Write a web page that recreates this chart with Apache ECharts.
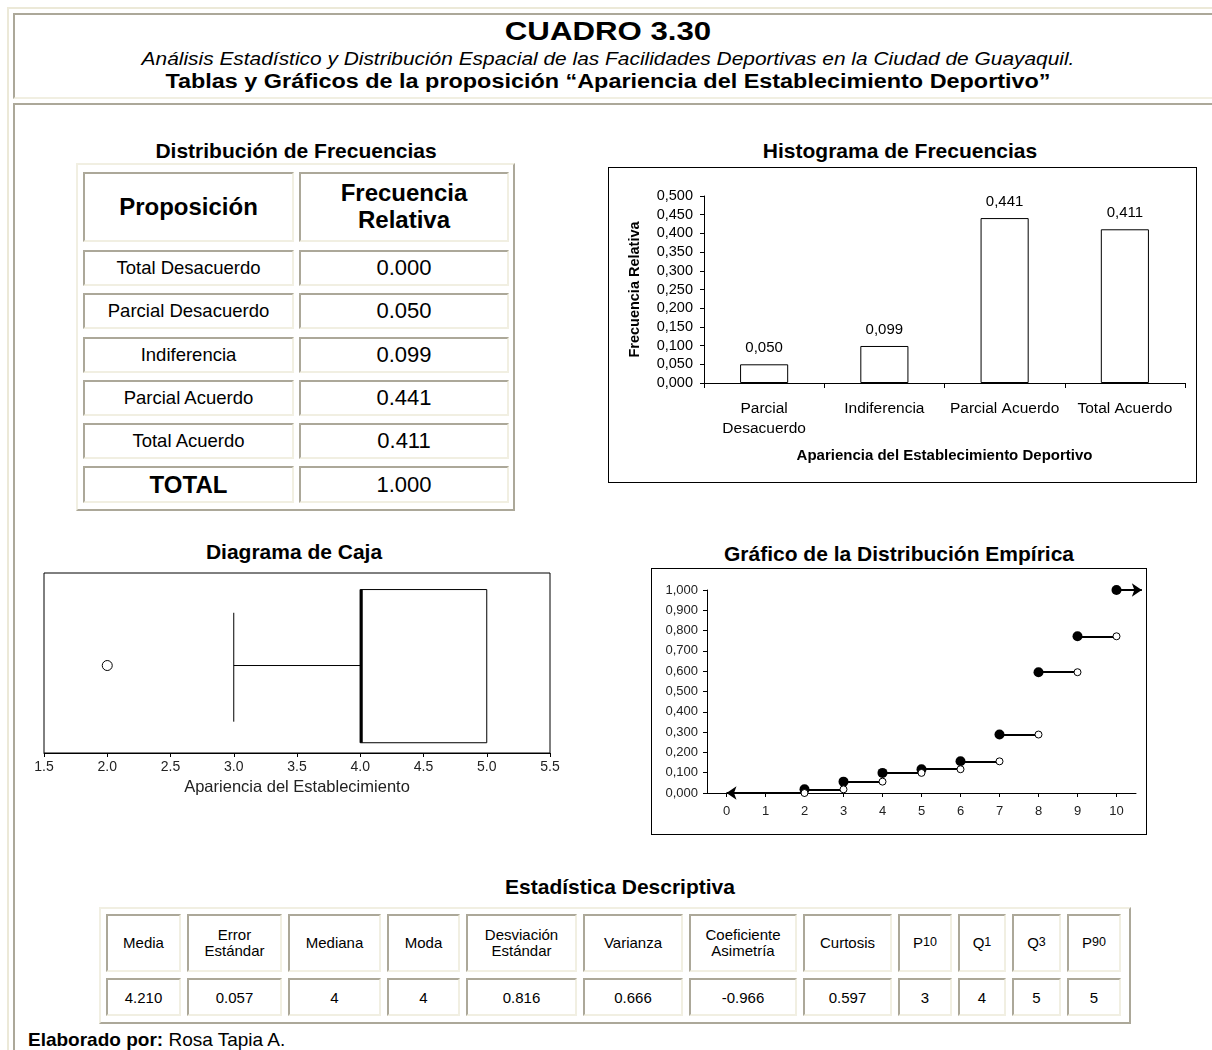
<!DOCTYPE html>
<html><head><meta charset="utf-8">
<script src="https://cdn.jsdelivr.net/npm/echarts@6/dist/echarts.min.js"></script>
<style>
html,body{margin:0;padding:0;width:1212px;height:1050px;overflow:hidden;background:#fff;font-family:'Liberation Sans',Arial,sans-serif;color:#000;}
.abs{position:absolute;box-sizing:border-box;}
.outer{border-top:2px solid #ECE9D8;border-left:2px solid #ECE9D8;}
.inset{border-top:2px solid #ACA899;border-left:2px solid #ACA899;border-bottom:2px solid #F1EFE2;border-right:2px solid #F1EFE2;}
.outset{border-top:2px solid #F1EFE2;border-left:2px solid #F1EFE2;border-bottom:2px solid #ACA899;border-right:2px solid #ACA899;}
.cell{position:absolute;box-sizing:border-box;display:flex;align-items:center;justify-content:center;text-align:center;border-top:2px solid #ACA899;border-left:2px solid #ACA899;border-bottom:2px solid #F1EFE2;border-right:2px solid #F1EFE2;}
.t{position:absolute;white-space:nowrap;transform:translate(-50%,-50%);line-height:1.15;}
</style></head><body>
<div class="abs outer" style="left:7px;top:7px;width:1400px;height:1200px;"></div>
<div class="abs inset" style="left:13px;top:13px;width:1400px;height:86px;"></div>
<div class="abs inset" style="left:13px;top:103px;width:1400px;height:1100px;"></div>

<div class="t" style="left:608px;top:32px;font-size:26px;font-weight:bold;transform:translate(-50%,-50%) scaleX(1.2);">CUADRO 3.30</div>
<div class="t" style="left:608px;top:59px;font-size:19px;font-style:italic;transform:translate(-50%,-50%) scaleX(1.1);">Análisis Estadístico y Distribución Espacial de las Facilidades Deportivas en la Ciudad de Guayaquil.</div>
<div class="t" style="left:608px;top:81px;font-size:20px;font-weight:bold;transform:translate(-50%,-50%) scaleX(1.17);">Tablas y Gráficos de la proposición “Apariencia del Establecimiento Deportivo”</div>

<div class="t" style="left:296px;top:151px;font-size:21px;font-weight:bold;">Distribución de Frecuencias</div>
<div class="t" style="left:900px;top:151px;font-size:21px;font-weight:bold;">Histograma de Frecuencias</div>
<div class="t" style="left:294px;top:552px;font-size:21px;font-weight:bold;">Diagrama de Caja</div>
<div class="t" style="left:899px;top:554px;font-size:21px;font-weight:bold;">Gráfico de la Distribución Empírica</div>
<div class="t" style="left:620px;top:887px;font-size:21px;font-weight:bold;">Estadística Descriptiva</div>

<div id="freqTable"></div>
<div id="statTable"></div>

<div id="hist" class="abs" style="left:608px;top:167px;width:589px;height:316px;border:1px solid #000;"></div>
<div id="box" class="abs" style="left:0px;top:560px;width:600px;height:250px;"></div>
<div id="ecdf" class="abs" style="left:651px;top:568px;width:496px;height:267px;border:1px solid #000;"></div>

<div class="abs" style="left:28px;top:1028px;font-size:19px;line-height:24px;white-space:nowrap;"><b>Elaborado por:</b> Rosa Tapia A.</div>

<script>
// ---------- DATA ----------
const propLabels = ['Total Desacuerdo','Parcial Desacuerdo','Indiferencia','Parcial Acuerdo','Total Acuerdo'];
const relFreq = [0.000, 0.050, 0.099, 0.441, 0.411];
const relFreqTotal = 1.000;

const histCategories = ['Parcial\nDesacuerdo','Indiferencia','Parcial Acuerdo','Total Acuerdo'];
const histValues = [0.050, 0.099, 0.441, 0.411];
const histYTicks = [0, 0.5, 0.05];

const boxValues = [3, 4, 4, 5, 5];   // min, Q1, median, Q3, max
const boxOutliers = [2];

const ecdfX = [2, 3, 4, 5, 6, 7, 8, 9, 10];
const ecdfY = [0.018, 0.056, 0.099, 0.117, 0.156, 0.288, 0.595, 0.772, 1.000];
const ecdfXTicks = [0, 1, 2, 3, 4, 5, 6, 7, 8, 9, 10];

const statLabels = ['Media','Error<br>Estándar','Mediana','Moda','Desviación<br>Estándar','Varianza','Coeficiente<br>Asimetría','Curtosis','P<sub>10</sub>','Q<sub>1</sub>','Q<sub>3</sub>','P<sub>90</sub>'];
const statValues = ['4.210','0.057','4','4','0.816','0.666','-0.966','0.597','3','4','5','5'];

// ---------- TABLES ----------
const F = "'Liberation Sans', Arial, sans-serif";
function cell(parent, x, y, w, h, html, style) {
  const d = document.createElement('div');
  d.className = 'cell';
  d.style.cssText += `left:${x}px;top:${y}px;width:${w}px;height:${h}px;${style||''}`;
  d.innerHTML = html;
  parent.appendChild(d);
}
(function(){
  const p = document.getElementById('freqTable');
  const o = document.createElement('div');
  o.className = 'abs outset';
  o.style.cssText = 'left:76px;top:163px;width:439px;height:348px;';
  p.appendChild(o);
  const c1x = 83, c1w = 211, c2x = 299, c2w = 210;
  cell(p, c1x, 172, c1w, 70, 'Proposición', 'font-size:24px;font-weight:bold;');
  cell(p, c2x, 172, c2w, 70, 'Frecuencia<br>Relativa', 'font-size:24px;font-weight:bold;line-height:1.12;');
  const rowsY = [250, 293, 337, 380, 423, 466];
  propLabels.forEach((lab, i) => {
    cell(p, c1x, rowsY[i], c1w, 36, lab, 'font-size:18.5px;');
    cell(p, c2x, rowsY[i], c2w, 36, relFreq[i].toFixed(3), 'font-size:22px;');
  });
  cell(p, c1x, rowsY[5], c1w, 37, 'TOTAL', 'font-size:24px;font-weight:bold;');
  cell(p, c2x, rowsY[5], c2w, 37, relFreqTotal.toFixed(3), 'font-size:22px;');
})();
(function(){
  const p = document.getElementById('statTable');
  const o = document.createElement('div');
  o.className = 'abs outset';
  o.style.cssText = 'left:99px;top:907px;width:1032px;height:117px;';
  p.appendChild(o);
  const widths = [75, 95, 93, 73, 111, 100, 108, 89, 54, 48, 49, 54];
  let x = 106;
  statLabels.forEach((lab, i) => {
    cell(p, x, 914, widths[i], 58, lab, 'font-size:15px;line-height:1.1;');
    cell(p, x, 978, widths[i], 38, statValues[i], 'font-size:15px;');
    x += widths[i] + 6;
  });
})();

// ---------- CHARTS ----------
const commaFmt = v => v.toFixed(3).replace('.', ',');

const hist = echarts.init(document.getElementById('hist'));
hist.setOption({
  animation: false,
  textStyle: { fontFamily: F },
  grid: { left: 95, right: 11, top: 28, bottom: 99 },
  xAxis: {
    type: 'category', data: histCategories,
    axisLine: { lineStyle: { color: '#000', width: 1 } },
    axisTick: { show: true, length: 5, lineStyle: { color: '#000' } },
    axisLabel: { color: '#000', fontSize: 15.5, interval: 0, margin: 16, lineHeight: 20, fontFamily: F },
    name: 'Apariencia del Establecimiento Deportivo', nameLocation: 'middle', nameGap: 65,
    nameTextStyle: { fontWeight: 'bold', fontSize: 15, color: '#000', fontFamily: F }
  },
  yAxis: {
    type: 'value', min: histYTicks[0], max: histYTicks[1], interval: histYTicks[2],
    splitLine: { show: false },
    axisLine: { show: true, lineStyle: { color: '#000', width: 1 } },
    axisTick: { show: true, length: 4, lineStyle: { color: '#000' } },
    axisLabel: { formatter: commaFmt, color: '#000', fontSize: 14.5, margin: 11, fontFamily: F },
    name: 'Frecuencia Relativa', nameLocation: 'middle', nameGap: 62,
    nameTextStyle: { fontWeight: 'bold', fontSize: 14.5, color: '#000', fontFamily: F }
  },
  series: [{
    type: 'bar', data: histValues, barWidth: '40%',
    itemStyle: { color: '#fff', borderColor: '#000', borderWidth: 1 },
    label: { show: true, position: 'top', distance: 9, formatter: p => commaFmt(p.value), fontSize: 15, color: '#000', fontFamily: F }
  }]
});

const box = echarts.init(document.getElementById('box'));
box.setOption({
  animation: false,
  textStyle: { fontFamily: F },
  grid: { left: 44, right: 50, top: 13, bottom: 57, show: true, borderColor: '#000', borderWidth: 1, backgroundColor: 'transparent' },
  xAxis: {
    type: 'value', min: 1.5, max: 5.5, interval: 0.5,
    splitLine: { show: false },
    axisLine: { show: true, onZero: false, lineStyle: { color: '#000' } },
    axisTick: { show: true, length: 4, lineStyle: { color: '#000' } },
    axisLabel: { formatter: v => v.toFixed(1), color: '#222', fontSize: 14, margin: 7, fontFamily: F },
    name: 'Apariencia del Establecimiento', nameLocation: 'middle', nameGap: 26,
    nameTextStyle: { fontSize: 16.5, color: '#222', fontFamily: F }
  },
  yAxis: { type: 'value', min: 0, max: 1, show: false },
  series: [{
    type: 'custom',
    data: [boxValues],
    encode: { x: [0, 1, 2, 3, 4] },
    clip: false,
    renderItem: (params, api) => {
      const mn = api.value(0), q1 = api.value(1), md = api.value(2), q3 = api.value(3), mx = api.value(4);
      const yc = 0.486, bTop = 0.908, bBot = 0.057, cTop = 0.779, cBot = 0.174;
      const c = (x, y) => api.coord([x, y]);
      const lineStyle = { stroke: '#000', lineWidth: 1 };
      return {
        type: 'group',
        children: [
          { type: 'line', shape: { x1: c(mn, yc)[0], y1: c(mn, yc)[1], x2: c(q1, yc)[0], y2: c(q1, yc)[1] }, style: lineStyle },
          { type: 'line', shape: { x1: c(q3, yc)[0], y1: c(q3, yc)[1], x2: c(mx, yc)[0], y2: c(mx, yc)[1] }, style: lineStyle },
          { type: 'line', shape: { x1: c(mn, cTop)[0], y1: c(mn, cTop)[1], x2: c(mn, cBot)[0], y2: c(mn, cBot)[1] }, style: lineStyle },
          { type: 'rect', shape: { x: c(q1, bTop)[0], y: c(q1, bTop)[1], width: c(q3, bTop)[0] - c(q1, bTop)[0], height: c(q1, bBot)[1] - c(q1, bTop)[1] }, style: { fill: '#fff', stroke: '#000', lineWidth: 1 } },
          { type: 'line', shape: { x1: c(md, bTop)[0] + 1, y1: c(md, bTop)[1], x2: c(md, bBot)[0] + 1, y2: c(md, bBot)[1] }, style: { stroke: '#000', lineWidth: 3 } }
        ]
      };
    }
  }, {
    type: 'scatter',
    data: boxOutliers.map(v => [v, 0.486]),
    symbol: 'circle', symbolSize: 10,
    itemStyle: { color: '#fff', borderColor: '#000', borderWidth: 1, opacity: 1 }
  }]
});

const ecdf = echarts.init(document.getElementById('ecdf'));
const segs = [];
for (let i = 0; i < ecdfX.length - 1; i++) segs.push({ coords: [[ecdfX[i], ecdfY[i]], [ecdfX[i + 1], ecdfY[i]]] });
const last = ecdfX.length - 1;
const rays = [
  { coords: [[ecdfX[0], 0], [ecdfXTicks[0], 0]] },
  { coords: [[ecdfX[last], ecdfY[last]], [ecdfX[last] + 0.65, ecdfY[last]]] }
];
const openPts = [[ecdfX[0], 0]];
for (let i = 0; i < ecdfX.length - 1; i++) openPts.push([ecdfX[i + 1], ecdfY[i]]);
ecdf.setOption({
  animation: false,
  textStyle: { fontFamily: F },
  grid: { left: 55, right: 10, top: 21, bottom: 41 },
  xAxis: {
    type: 'value', min: -0.5, max: 10.5,
    splitLine: { show: false },
    axisLine: { show: true, onZero: false, lineStyle: { color: '#000' } },
    axisTick: { show: true, length: 4, customValues: ecdfXTicks, lineStyle: { color: '#000' } },
    axisLabel: { customValues: ecdfXTicks, color: '#222', fontSize: 13, margin: 12, fontFamily: F }
  },
  yAxis: {
    type: 'value', min: 0, max: 1, interval: 0.1,
    splitLine: { show: false },
    axisLine: { show: true, onZero: false, lineStyle: { color: '#000' } },
    axisTick: { show: true, length: 4, lineStyle: { color: '#000' } },
    axisLabel: { formatter: commaFmt, color: '#222', fontSize: 13, margin: 9, fontFamily: F }
  },
  series: [
    { type: 'lines', coordinateSystem: 'cartesian2d', data: segs, lineStyle: { color: '#000', width: 2, opacity: 1 }, symbol: ['none', 'none'], clip: false, z: 2 },
    { type: 'lines', coordinateSystem: 'cartesian2d', data: rays, lineStyle: { color: '#000', width: 2, opacity: 1 }, symbol: ['none', 'arrow'], symbolSize: 10, clip: false, z: 2 },
    { type: 'scatter', data: ecdfX.map((x, i) => [x, ecdfY[i]]), symbol: 'circle', symbolSize: 10, itemStyle: { color: '#000', opacity: 1 }, clip: false, z: 3 },
    { type: 'scatter', data: openPts, symbol: 'circle', symbolSize: 7, itemStyle: { color: '#fff', borderColor: '#000', borderWidth: 1, opacity: 1 }, clip: false, z: 4 }
  ]
});
</script>
</body></html>
